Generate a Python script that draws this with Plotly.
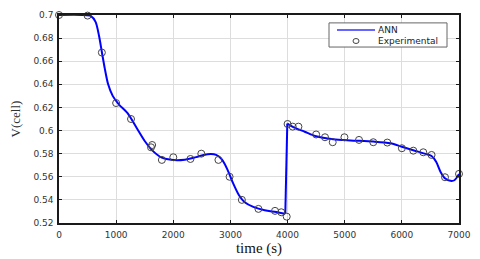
import plotly.graph_objects as go

# ANN model curve (time s, voltage V)
ann_t = [0, 400, 560, 640, 700, 750, 800, 860, 940, 1050, 1200, 1350, 1500, 1650, 1800,
         2000, 2200, 2400, 2600, 2750, 2850, 2950, 3050, 3150, 3250, 3400, 3600, 3800,
         3960, 3995, 4100, 4300, 4500, 4800, 5100, 5500, 5800, 6000, 6200, 6400, 6520,
         6600, 6680, 6760, 6850, 6920, 7000]
ann_v = [0.700, 0.700, 0.699, 0.694, 0.682, 0.668, 0.654, 0.640, 0.630, 0.6225, 0.615,
         0.603, 0.591, 0.582, 0.5765, 0.5745, 0.5748, 0.577, 0.5795, 0.579, 0.575, 0.566,
         0.554, 0.544, 0.538, 0.534, 0.531, 0.5295, 0.528, 0.606, 0.603, 0.599, 0.595,
         0.5925, 0.5915, 0.5905, 0.589, 0.586, 0.583, 0.580, 0.578, 0.573, 0.564, 0.5585,
         0.5565, 0.557, 0.5625]
jump_index = 28  # last point before the step at t = 4000 s

# Experimental measurements
exp_t = [0, 500, 750, 1000, 1260, 1610, 1630, 1800, 2000, 2300, 2490, 2790, 2985, 3200,
         3490, 3780, 3890, 3985, 4000, 4090, 4190, 4500, 4655, 4790, 4995, 5250, 5500,
         5745, 6000, 6200, 6375, 6520, 6755, 7000]
exp_v = [0.700, 0.6995, 0.6675, 0.6238, 0.610, 0.5855, 0.5875, 0.5746, 0.5769, 0.5754,
         0.5800, 0.5746, 0.5600, 0.5400, 0.5322, 0.5305, 0.5293, 0.5255, 0.6057, 0.6034,
         0.6034, 0.5966, 0.5942, 0.5899, 0.5942, 0.5919, 0.5899, 0.5896, 0.5847, 0.5826,
         0.5812, 0.5789, 0.5596, 0.5625]

x_ticks = [0, 1000, 2000, 3000, 4000, 5000, 6000, 7000]
y_ticks = [0.52, 0.54, 0.56, 0.58, 0.6, 0.62, 0.64, 0.66, 0.68, 0.7]
y_tick_text = ["0.52", "0.54", "0.56", "0.58", "0.6", "0.62", "0.64", "0.66", "0.68", "0.7"]

legend_labels = ["ANN", "Experimental"]

blue = "#0000ff"
fig = go.Figure()
segments = [
    (ann_t[:jump_index + 1], ann_v[:jump_index + 1], "spline"),
    (ann_t[jump_index:jump_index + 2], ann_v[jump_index:jump_index + 2], "linear"),
    (ann_t[jump_index + 1:], ann_v[jump_index + 1:], "spline"),
]
for i, (tx, vy, shp) in enumerate(segments):
    fig.add_trace(go.Scatter(
        x=tx, y=vy, mode="lines", name=legend_labels[0], legendgroup="ann",
        showlegend=False,
        line=dict(color=blue, width=2, shape=shp, smoothing=0.8),
    ))
fig.add_trace(go.Scatter(
    x=exp_t, y=exp_v, mode="markers", name=legend_labels[1], showlegend=False,
    marker=dict(symbol="circle-open", size=7, color="#444444", line=dict(width=1)),
    cliponaxis=False,
))

axis_common = dict(
    showline=True, linecolor="#1a1a1a", linewidth=1.5, mirror="ticks",
    ticks="inside", ticklen=3, tickcolor="#1a1a1a", tickwidth=1,
    showgrid=True, gridcolor="#dddddd", gridwidth=1, zeroline=False,
    tickfont=dict(family="DejaVu Sans", size=9, color="#333333"),
    ticklabelstandoff=2, automargin=False,
)

# Legend box (drawn in paper coordinates of the plot area)
fig.add_shape(type="rect", xref="paper", yref="paper", x0=0.675, x1=0.97, y0=0.846, y1=0.962,
              line=dict(color="#666666", width=1), fillcolor="white", layer="above")
fig.add_shape(type="line", xref="paper", yref="paper", x0=0.695, x1=0.79, y0=0.928, y1=0.928,
              line=dict(color="#3333ff", width=1.3), layer="above")
fig.add_shape(type="circle", xref="paper", yref="paper", xsizemode="pixel", ysizemode="pixel",
              xanchor=0.7425, yanchor=0.875, x0=-3, x1=3, y0=-2.5, y1=2.5,
              line=dict(color="#444444", width=1), layer="above")
for lbl, yy in zip(legend_labels, [0.928, 0.875]):
    fig.add_annotation(xref="paper", yref="paper", x=0.792, y=yy, text=lbl, showarrow=False,
                       xanchor="left", yanchor="middle",
                       font=dict(family="DejaVu Sans", size=9, color="#222222"))

# The page body adds an 8px offset, so the figure is sized to fill the rest of the window.
fig.update_layout(
    width=472, height=251,
    margin=dict(l=51, r=21, t=7, b=36),
    paper_bgcolor="white", plot_bgcolor="white",
    showlegend=False,
    xaxis=dict(range=[0, 7000], tickvals=x_ticks,
               title=dict(text="time (s)", standoff=0,
                          font=dict(family="Liberation Serif", size=15, color="#111111")),
               **axis_common),
    yaxis=dict(range=[0.52, 0.70], tickvals=y_ticks, ticktext=y_tick_text,
               title=dict(text="V(cell)", standoff=10,
                          font=dict(family="Liberation Serif", size=13, color="#333333")),
               **axis_common),
)

fig.write_html("out.html")
